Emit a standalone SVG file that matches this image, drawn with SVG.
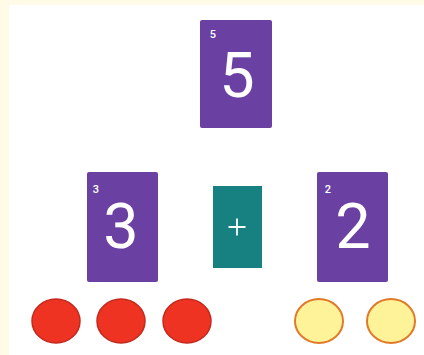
<svg xmlns="http://www.w3.org/2000/svg" width="424" height="355" viewBox="0 0 424 355">
<style>
.card{fill:#6A40A2;}
.op{fill:#178080;}
.big{font-family:Roboto,"Liberation Sans",sans-serif;font-weight:400;font-size:63px;fill:#fff;text-anchor:middle;}
.small{font-family:Roboto,"Liberation Sans",sans-serif;font-weight:500;font-size:11px;fill:#fff;text-anchor:middle;}
.red{fill:#EE3322;stroke:#C22A1E;stroke-width:1.5;}
.yel{fill:#FFF39A;stroke:#E07A2A;stroke-width:2;}
</style>
<rect width="424" height="355" fill="#FFFBE6"/>
<rect x="9" y="5" width="415" height="350" fill="#FFFFFF"/>
<g id="card5">
<rect class="card" x="200" y="20" width="72" height="108" rx="2"/>
<text class="small" x="213" y="38">5</text>
<text class="big" x="237" y="97">5</text>
</g>
<g id="card3">
<rect class="card" x="87" y="172" width="71" height="110" rx="2"/>
<text class="small" x="96" y="193">3</text>
<text class="big" x="121" y="248">3</text>
</g>
<g id="plus">
<rect class="op" x="213" y="186" width="49" height="82"/>
<path d="M228.5 227H245.5M237 218.5V235.5" stroke="#fff" stroke-width="1.8" fill="none"/>
</g>
<g id="card2">
<rect class="card" x="317" y="172" width="71" height="110" rx="2"/>
<text class="small" x="328" y="193">2</text>
<text class="big" x="353" y="248">2</text>
</g>
<g id="counters">
<ellipse class="red" cx="56" cy="321" rx="24" ry="22"/>
<ellipse class="red" cx="121" cy="321" rx="24" ry="22"/>
<ellipse class="red" cx="187" cy="321" rx="24" ry="22"/>
<ellipse class="yel" cx="319" cy="321" rx="24" ry="22"/>
<ellipse class="yel" cx="391" cy="321" rx="24" ry="22"/>
</g>
<g id="connectors"></g>
</svg>
